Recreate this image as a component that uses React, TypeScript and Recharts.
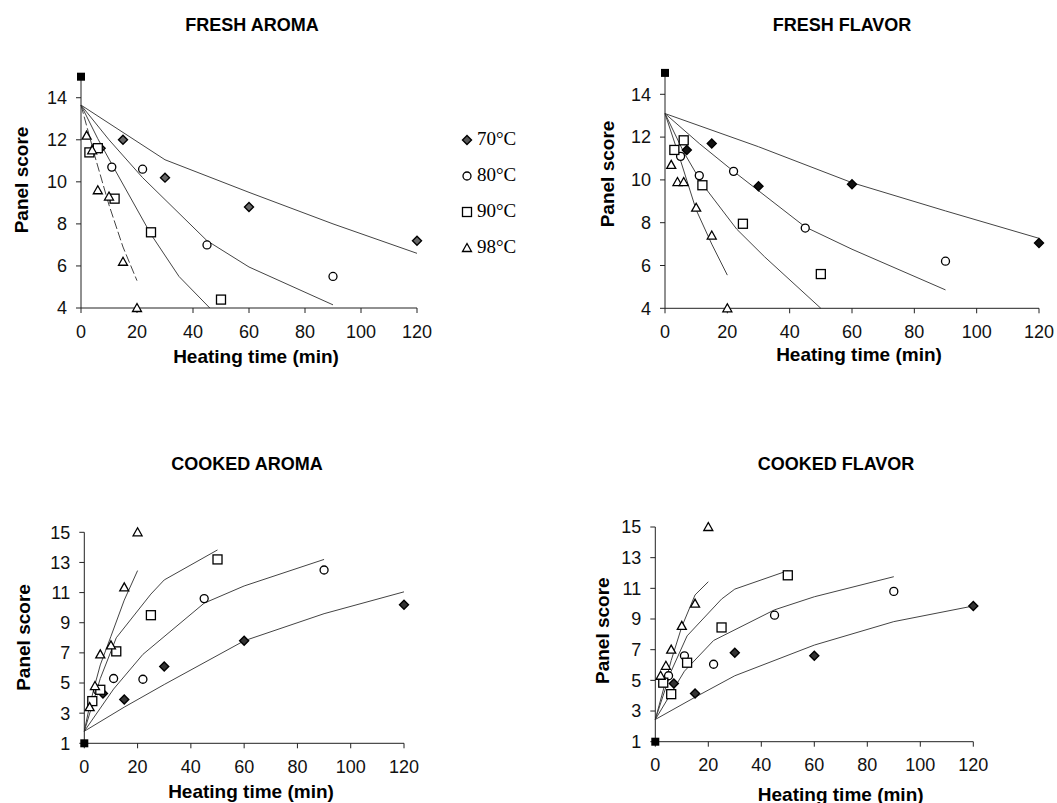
import React from 'react';
import { ComposedChart, Scatter, Line, XAxis, YAxis, Label, Legend } from 'recharts';

// heating times (min) for each temperature
const t70 = [7, 15, 30, 60, 120];
const t80 = [5, 11, 22, 45, 90];
const t90 = [3, 6, 12, 25, 50];
const t98 = [2, 4, 6, 10, 15, 20];
const tControl = [0];

const temps = ['70°C', '80°C', '90°C', '98°C'];
const xTicks = [0, 20, 40, 60, 80, 100, 120];
const freshTicks = [4, 6, 8, 10, 12, 14];
const cookedTicks = [1, 3, 5, 7, 9, 11, 13, 15];

// FRESH AROMA - panel scores
const freshAroma70 = [11.6, 12.0, 10.2, 8.8, 7.2];
const freshAroma80 = [11.6, 10.7, 10.6, 7.0, 5.5];
const freshAroma90 = [11.4, 11.6, 9.2, 7.6, 4.4];
const freshAroma98 = [12.2, 11.5, 9.6, 9.3, 6.2, 4.0];
const freshControl = [15];
// FRESH AROMA - fitted curves
const faFitT70 = [0, 15, 30, 60, 90, 120];
const faFit70 = [13.65, 12.35, 11.05, 9.5, 8.0, 6.6];
const faFitT80 = [0, 10, 22, 45, 60, 90];
const faFit80 = [13.65, 12.0, 10.2, 7.2, 5.95, 4.15];
const faFitT90 = [0, 6, 12, 25, 35, 46];
const faFit90 = [13.65, 12.05, 10.6, 7.5, 5.5, 4.0];
const faFitT98 = [0, 5, 10, 15, 20];
const faFit98 = [13.65, 11.2, 8.9, 6.9, 5.3];

// FRESH FLAVOR - panel scores
const freshFlavor70 = [11.4, 11.7, 9.7, 9.8, 7.05];
const freshFlavor80 = [11.1, 10.2, 10.4, 7.75, 6.2];
const freshFlavor90 = [11.4, 11.85, 9.75, 7.95, 5.6];
const freshFlavor98 = [10.7, 9.9, 9.9, 8.7, 7.4, 4.0];
// FRESH FLAVOR - fitted curves
const ffFitT70 = [0, 30, 60, 90, 120];
const ffFit70 = [13.1, 11.55, 9.87, 8.55, 7.27];
const ffFitT80 = [0, 11, 22, 45, 60, 90];
const ffFit80 = [13.1, 11.7, 10.4, 7.8, 6.76, 4.86];
const ffFitT90 = [0, 6, 12, 23, 32, 50];
const ffFit90 = [13.1, 11.3, 9.8, 7.7, 6.4, 4.0];
const ffFitT98 = [0, 5, 10, 15, 20];
const ffFit98 = [13.1, 10.9, 8.6, 7.0, 5.55];

// COOKED AROMA - panel scores
const cookedAroma70 = [4.3, 3.9, 6.1, 7.8, 10.2];
const cookedAroma80 = [4.5, 5.3, 5.25, 10.6, 12.5];
const cookedAroma90 = [3.8, 4.55, 7.1, 9.5, 13.2];
const cookedAroma98 = [3.4, 4.8, 6.9, 7.5, 11.35, 15.0];
const cookedControl = [1];
// COOKED AROMA - fitted curves
const caFitT70 = [0, 15, 30, 60, 90, 120];
const caFit70 = [1.8, 3.4, 4.9, 7.8, 9.6, 11.05];
const caFitT80 = [0, 11, 22, 45, 60, 90];
const caFit80 = [1.8, 4.6, 6.9, 10.3, 11.44, 13.2];
const caFitT90 = [0, 6, 12, 25, 30, 50];
const caFit90 = [1.8, 5.3, 8.0, 10.9, 11.84, 13.83];
const caFitT98 = [0, 2, 4, 6, 10, 15, 20];
const caFit98 = [1.8, 3.5, 4.9, 6.2, 8.1, 10.5, 12.46];

// COOKED FLAVOR - panel scores
const cookedFlavor70 = [4.8, 4.15, 6.8, 6.6, 9.85];
const cookedFlavor80 = [5.3, 6.6, 6.05, 9.25, 10.8];
const cookedFlavor90 = [4.85, 4.1, 6.15, 8.45, 11.85];
const cookedFlavor98 = [5.3, 5.95, 7.0, 8.55, 10.0, 15.0];
// COOKED FLAVOR - fitted curves
const cfFitT70 = [0, 15, 30, 60, 90, 120];
const cfFit70 = [2.45, 3.9, 5.3, 7.3, 8.83, 9.85];
const cfFitT80 = [0, 11, 22, 45, 60, 90];
const cfFit80 = [2.45, 5.6, 7.6, 9.6, 10.45, 11.76];
const cfFitT90 = [0, 6, 12, 25, 30, 50];
const cfFit90 = [2.45, 5.6, 7.9, 10.3, 10.95, 12.15];
const cfFitT98 = [0, 4, 6, 10, 15, 20];
const cfFit98 = [2.45, 5.0, 6.3, 8.5, 10.57, 11.43];

const pts = (xs: number[], ys: number[]) => xs.map((x, i) => ({ x, y: ys[i] }));

const SANS = '"Liberation Sans", Arial, Helvetica, sans-serif';
const SERIF = '"Liberation Serif", "Times New Roman", serif';
const kinds = ['diamond', 'circle', 'square', 'triangle'];

function Mark({ cx, cy, kind, dark }: { cx: number; cy: number; kind: string; dark?: string }) {
  if (cx == null || cy == null) return null;
  const s = 4.5;
  if (kind === 'diamond')
    return (
      <path
        d={`M${cx},${cy - s} L${cx + s},${cy} L${cx},${cy + s} L${cx - s},${cy} Z`}
        fill={dark || '#555'}
        stroke="#000"
        strokeWidth={1.4}
      />
    );
  if (kind === 'circle')
    return <circle cx={cx} cy={cy} r={4} fill="#fff" stroke="#000" strokeWidth={1.3} />;
  if (kind === 'square')
    return <rect x={cx - 4.5} y={cy - 4.5} width={9} height={9} fill="#fff" stroke="#000" strokeWidth={1.3} />;
  if (kind === 'triangle')
    return (
      <path
        d={`M${cx},${cy - 4.5} L${cx + 4.5},${cy + 3.5} L${cx - 4.5},${cy + 3.5} Z`}
        fill="#fff"
        stroke="#000"
        strokeWidth={1.3}
      />
    );
  return <rect x={cx - 4} y={cy - 4} width={8} height={8} fill="#000" />;
}

function TempLegend() {
  return (
    <div style={{ fontFamily: SERIF, fontSize: 19, color: '#000' }}>
      {temps.map((t, i) => (
        <div key={t} style={{ display: 'flex', alignItems: 'center', height: 36 }}>
          <svg width={14} height={14} style={{ marginRight: 2 }}>
            <Mark cx={6} cy={8} kind={kinds[i]} />
          </svg>
          <span>{t}</span>
        </div>
      ))}
    </div>
  );
}

interface PanelProps {
  left: number;
  top: number;
  width: number;
  height: number;
  margin: { top: number; right: number; bottom: number; left: number };
  yWidth: number;
  xHeight: number;
  yDomain: [number, number];
  yTicks: number[];
  series: { x: number; y: number }[][];
  fits: { x: number; y: number }[][];
  control: { x: number; y: number }[];
  yLabelPos: [number, number];
  xLabelPos: [number, number];
  diamondFill: string;
  dashed98?: boolean;
  legend?: boolean;
}

function Panel(p: PanelProps) {
  const tickStyle = { fill: '#111', fontSize: 18, fontFamily: SANS };
  return (
    <div style={{ position: 'absolute', left: p.left, top: p.top }}>
      <ComposedChart width={p.width} height={p.height} margin={p.margin}>
        <XAxis
          dataKey="x"
          type="number"
          domain={[0, 120]}
          ticks={xTicks}
          height={p.xHeight}
          tick={tickStyle}
          tickSize={5}
          tickMargin={12}
          stroke="#222"
        >
          <Label
            content={() => (
              <text
                x={p.xLabelPos[0]}
                y={p.xLabelPos[1]}
                textAnchor="middle"
                dominantBaseline="central"
                fontFamily={SANS}
                fontWeight="bold"
                fontSize={19}
                fill="#000"
              >
                Heating time (min)
              </text>
            )}
          />
        </XAxis>
        <YAxis
          dataKey="y"
          type="number"
          domain={p.yDomain}
          ticks={p.yTicks}
          width={p.yWidth}
          tick={tickStyle}
          tickSize={5}
          tickMargin={9}
          stroke="#222"
          interval={0}
        >
          <Label
            content={() => (
              <text
                x={p.yLabelPos[0]}
                y={p.yLabelPos[1]}
                transform={`rotate(-90, ${p.yLabelPos[0]}, ${p.yLabelPos[1]})`}
                textAnchor="middle"
                dominantBaseline="central"
                fontFamily={SANS}
                fontWeight="bold"
                fontSize={19}
                fill="#000"
              >
                Panel score
              </text>
            )}
          />
        </YAxis>
        {p.fits.map((f, i) => (
          <Line
            key={'fit' + i}
            data={f}
            dataKey="y"
            stroke="#444"
            strokeWidth={1}
            strokeDasharray={p.dashed98 && i === 3 ? '9 3' : undefined}
            dot={false}
            activeDot={false}
            isAnimationActive={false}
            legendType="none"
          />
        ))}
        {p.series.map((s, i) => (
          <Scatter
            key={'s' + i}
            name={temps[i]}
            data={s}
            dataKey="y"
            isAnimationActive={false}
            shape={(sp: any) => <Mark cx={sp.cx} cy={sp.cy} kind={kinds[i]} dark={p.diamondFill} />}
          />
        ))}
        <Scatter
          data={p.control}
          dataKey="y"
          isAnimationActive={false}
          legendType="none"
          shape={(sp: any) => <Mark cx={sp.cx} cy={sp.cy} kind="control" />}
        />
        {p.legend && (
          <Legend
            layout="vertical"
            align="center"
            verticalAlign="middle"
            content={() => <TempLegend />}
            wrapperStyle={{ left: 461, top: 121, width: 80, height: 150 }}
          />
        )}
      </ComposedChart>
    </div>
  );
}

function Title({ text, x, y }: { text: string; x: number; y: number }) {
  return (
    <div
      style={{
        position: 'absolute',
        left: x - 150,
        top: y - 12,
        width: 300,
        height: 24,
        lineHeight: '24px',
        textAlign: 'center',
        fontFamily: SANS,
        fontWeight: 'bold',
        fontSize: 18,
        color: '#000',
      }}
    >
      {text}
    </div>
  );
}

export default function App() {
  return (
    <div style={{ position: 'absolute', left: 0, top: 0, width: 1057, height: 803, background: '#fff' }}>
      <Title text="FRESH AROMA" x={252} y={24.5} />
      <Title text="FRESH FLAVOR" x={842} y={24.5} />
      <Title text="COOKED AROMA" x={247} y={464} />
      <Title text="COOKED FLAVOR" x={836} y={464} />

      <Panel
        left={0}
        top={0}
        width={540}
        height={370}
        margin={{ top: 76.7, right: 123, bottom: 12, left: 0 }}
        yWidth={81}
        xHeight={50}
        yDomain={[4, 15]}
        yTicks={freshTicks}
        series={[pts(t70, freshAroma70), pts(t80, freshAroma80), pts(t90, freshAroma90), pts(t98, freshAroma98)]}
        fits={[pts(faFitT70, faFit70), pts(faFitT80, faFit80), pts(faFitT90, faFit90), pts(faFitT98, faFit98)]}
        control={pts(tControl, freshControl)}
        yLabelPos={[21, 180]}
        xLabelPos={[256, 356]}
        diamondFill="#666"
        dashed98
        legend
      />
      <Panel
        left={560}
        top={0}
        width={497}
        height={370}
        margin={{ top: 72.9, right: 18, bottom: 11.7, left: 0 }}
        yWidth={105}
        xHeight={50}
        yDomain={[4, 15]}
        yTicks={freshTicks}
        series={[pts(t70, freshFlavor70), pts(t80, freshFlavor80), pts(t90, freshFlavor90), pts(t98, freshFlavor98)]}
        fits={[pts(ffFitT70, ffFit70), pts(ffFitT80, ffFit80), pts(ffFitT90, ffFit90), pts(ffFitT98, ffFit98)]}
        control={pts(tControl, freshControl)}
        yLabelPos={[47, 174]}
        xLabelPos={[299, 354]}
        diamondFill="#111"
      />
      <Panel
        left={0}
        top={440}
        width={440}
        height={363}
        margin={{ top: 92.3, right: 36, bottom: 0, left: 0 }}
        yWidth={84.3}
        xHeight={59.7}
        yDomain={[1, 15]}
        yTicks={cookedTicks}
        series={[pts(t70, cookedAroma70), pts(t80, cookedAroma80), pts(t90, cookedAroma90), pts(t98, cookedAroma98)]}
        fits={[pts(caFitT70, caFit70), pts(caFitT80, caFit80), pts(caFitT90, caFit90), pts(caFitT98, caFit98)]}
        control={pts(tControl, cookedControl)}
        yLabelPos={[23, 197.5]}
        xLabelPos={[251, 351.7]}
        diamondFill="#333"
      />
      <Panel
        left={560}
        top={440}
        width={497}
        height={363}
        margin={{ top: 87, right: 83.7, bottom: 0, left: 0 }}
        yWidth={95.3}
        xHeight={61.3}
        yDomain={[1, 15]}
        yTicks={cookedTicks}
        series={[pts(t70, cookedFlavor70), pts(t80, cookedFlavor80), pts(t90, cookedFlavor90), pts(t98, cookedFlavor98)]}
        fits={[pts(cfFitT70, cfFit70), pts(cfFitT80, cfFit80), pts(cfFitT90, cfFit90), pts(cfFitT98, cfFit98)]}
        control={pts(tControl, cookedControl)}
        yLabelPos={[43, 190.7]}
        xLabelPos={[280.7, 354]}
        diamondFill="#333"
      />
    </div>
  );
}
